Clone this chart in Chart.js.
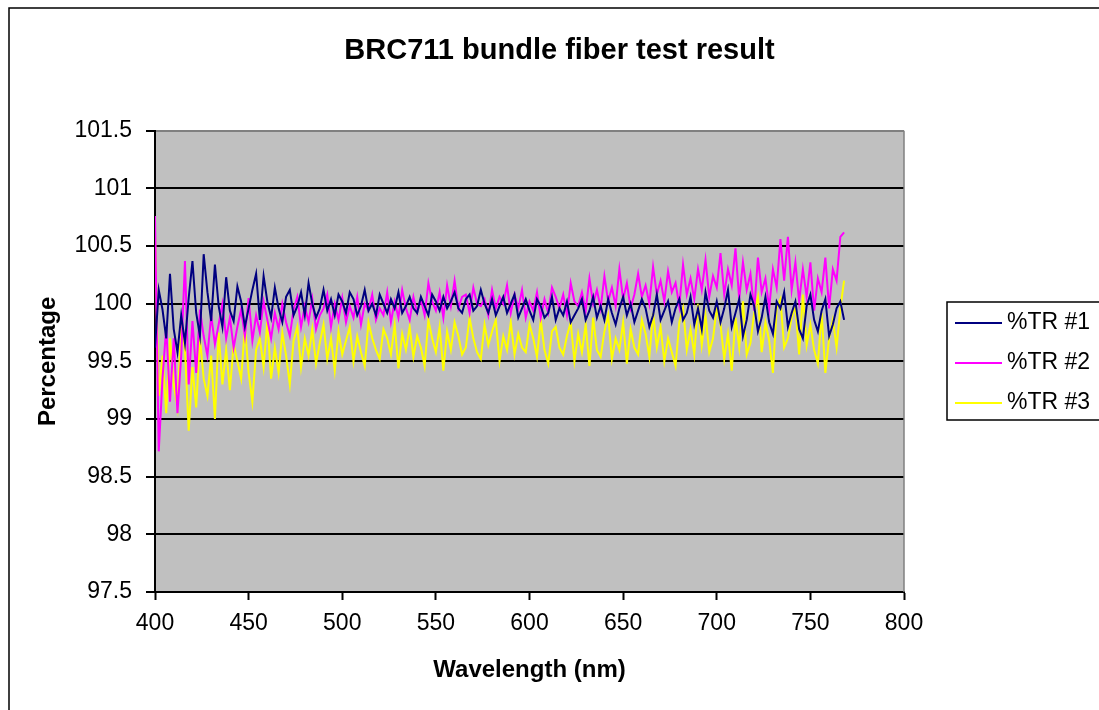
<!DOCTYPE html>
<html lang="en">
<head>
<meta charset="UTF-8">
<title>BRC711 bundle fiber test result</title>
<script src="https://cdn.jsdelivr.net/npm/chart.js"></script>
<style>
  html, body { margin: 0; padding: 0; background: #fff; }
</style>
</head>
<body>

<div style="width: 1099px; height: 710px;">
    <canvas id="fiberChart"></canvas>
</div>

<script>
    // wavelength samples (nm)
    var wavelengths = [
        400,402,404,406,408,410,412,414,416,418,
        420,422,424,426,428,430,432,434,436,438,
        440,442,444,446,448,450,452,454,456,458,
        460,462,464,466,468,470,472,474,476,478,
        480,482,484,486,488,490,492,494,496,498,
        500,502,504,506,508,510,512,514,516,518,
        520,522,524,526,528,530,532,534,536,538,
        540,542,544,546,548,550,552,554,556,558,
        560,562,564,566,568,570,572,574,576,578,
        580,582,584,586,588,590,592,594,596,598,
        600,602,604,606,608,610,612,614,616,618,
        620,622,624,626,628,630,632,634,636,638,
        640,642,644,646,648,650,652,654,656,658,
        660,662,664,666,668,670,672,674,676,678,
        680,682,684,686,688,690,692,694,696,698,
        700,702,704,706,708,710,712,714,716,718,
        720,722,724,726,728,730,732,734,736,738,
        740,742,744,746,748,750,752,754,756,758,
        760,762,764,766,768
    ];

    var tr1 = [
        99.62,100.12,99.95,99.70,100.26,99.78,99.58,99.90,99.66,100.05,
        100.37,99.92,99.72,100.43,100.10,99.85,100.34,99.98,99.80,100.23,
        99.94,99.85,100.15,100.02,99.80,99.96,100.12,100.26,99.86,100.24,
        100.02,99.88,100.14,99.96,99.84,100.06,100.12,99.90,99.98,100.10,
        99.90,100.18,100.00,99.88,99.96,100.12,99.94,100.04,99.90,100.08,
        100.02,99.92,100.10,100.04,99.90,99.98,100.12,99.94,100.00,99.90,
        100.08,100.00,99.92,100.04,99.96,100.10,99.92,99.98,100.06,99.96,
        99.92,100.06,99.98,99.90,100.08,100.02,99.94,100.06,99.96,100.02,
        100.10,99.96,99.92,100.04,100.08,99.94,99.98,100.12,100.00,99.92,
        100.04,99.90,99.98,100.06,99.92,100.00,100.08,99.88,99.96,100.04,
        99.94,99.86,100.04,99.98,99.88,99.92,100.06,99.86,99.96,99.90,
        100.02,99.84,99.90,99.96,100.04,99.86,99.94,100.06,99.88,99.98,
        99.86,100.04,99.92,99.82,99.96,100.06,99.90,100.00,99.84,99.94,
        100.04,99.96,99.80,99.90,100.08,99.86,99.94,100.02,99.84,99.96,
        100.04,99.86,99.92,100.06,99.82,99.96,99.78,100.10,99.94,99.88,
        100.02,99.84,99.96,100.12,99.80,99.92,100.04,99.72,99.86,100.08,
        99.98,99.76,99.88,100.06,99.84,99.74,100.02,99.96,100.10,99.80,
        99.92,100.02,99.78,99.70,99.98,100.08,99.86,99.76,99.94,100.04,
        99.72,99.82,99.96,100.02,99.86
    ];

    var tr2 = [
        100.76,98.72,99.35,99.80,99.15,99.70,99.05,99.55,100.37,99.30,
        99.85,99.40,99.95,99.72,99.55,99.90,99.65,99.82,100.00,99.70,
        99.88,99.62,99.80,99.95,99.72,100.05,99.68,99.90,99.75,100.02,
        99.86,99.70,99.92,99.78,100.00,99.84,99.72,99.95,100.06,99.80,
        99.98,99.84,100.04,99.78,99.90,99.96,100.08,99.80,100.00,99.86,
        100.05,99.84,99.98,99.88,100.06,99.82,100.00,99.94,100.08,99.86,
        99.96,99.90,100.10,99.84,100.02,99.88,100.12,99.96,99.86,100.06,
        99.92,100.04,99.90,100.18,100.02,99.94,100.10,99.88,100.16,99.98,
        100.20,99.96,100.06,100.08,99.92,100.14,100.00,99.98,100.04,99.90,
        100.12,99.96,100.06,100.00,100.16,99.92,100.08,99.96,100.12,99.88,
        100.02,99.94,100.10,99.88,100.04,99.92,100.14,100.06,99.96,100.08,
        99.90,100.18,100.02,99.98,100.10,99.94,100.22,100.00,100.12,99.96,
        100.24,100.02,100.14,99.98,100.30,100.04,100.18,99.96,100.08,100.26,
        100.06,100.16,100.00,100.32,100.08,100.20,100.02,100.28,100.10,100.18,
        99.98,100.34,100.08,100.22,100.04,100.30,100.12,100.38,100.06,100.24,
        100.14,100.44,100.08,100.30,100.16,100.48,100.04,100.36,100.12,100.26,
        99.94,100.40,100.10,100.22,99.96,100.30,100.14,100.56,100.20,100.58,
        100.12,100.36,100.02,100.30,100.06,100.36,99.94,100.22,100.10,100.40,
        99.96,100.30,100.20,100.58,100.62
    ];

    var tr3 = [
        100.60,99.20,99.55,99.05,99.70,99.30,99.10,99.85,99.60,98.90,
        99.45,99.10,99.70,99.35,99.20,99.55,99.00,99.75,99.30,99.60,
        99.25,99.65,99.50,99.35,99.80,99.40,99.15,99.60,99.70,99.45,
        99.85,99.35,99.62,99.40,99.75,99.55,99.30,99.68,99.80,99.45,
        99.70,99.55,99.78,99.48,99.66,99.82,99.52,99.70,99.42,99.76,
        99.56,99.68,99.80,99.50,99.72,99.58,99.46,99.84,99.70,99.60,
        99.52,99.78,99.70,99.56,99.82,99.44,99.74,99.60,99.80,99.54,
        99.72,99.62,99.46,99.86,99.70,99.58,99.80,99.42,99.76,99.60,
        99.84,99.72,99.56,99.62,99.88,99.70,99.58,99.52,99.82,99.64,
        99.76,99.86,99.50,99.72,99.60,99.84,99.56,99.74,99.62,99.58,
        99.82,99.70,99.54,99.86,99.60,99.48,99.76,99.80,99.62,99.56,
        99.72,99.84,99.50,99.74,99.58,99.82,99.46,99.88,99.60,99.54,
        99.76,99.90,99.52,99.70,99.60,99.84,99.48,99.78,99.62,99.56,
        99.86,99.74,99.54,99.92,99.62,99.80,99.50,99.70,99.58,99.46,
        99.84,99.96,99.60,99.78,99.56,100.00,99.64,99.90,99.58,99.70,
        99.96,99.82,99.52,99.74,99.42,99.88,99.62,100.02,99.56,99.66,
        99.92,100.06,99.58,99.84,99.68,99.40,99.96,100.04,99.62,99.70,
        99.88,99.98,99.56,100.08,99.64,99.82,99.60,99.48,99.92,99.40,
        99.70,99.86,99.62,99.96,100.20
    ];

    var seriesNames = ['%TR #1', '%TR #2', '%TR #3'];
    var seriesColors = ['#000080', '#FF00FF', '#FFFF00'];

    var xTicks = [400, 450, 500, 550, 600, 650, 700, 750, 800];
    var yTicks = [97.5, 98, 98.5, 99, 99.5, 100, 100.5, 101, 101.5];

    Chart.defaults.font.family = "'Liberation Sans', Arial, sans-serif";
    Chart.defaults.color = '#000';

    // white page, outer frame, grey plot area
    var frame = {
        id: 'frame',
        beforeDraw: function(chart) {
            var c = chart.ctx, a = chart.chartArea;
            c.save();
            c.fillStyle = '#fff';
            c.fillRect(0, 0, chart.width, chart.height);
            c.strokeStyle = '#000';
            c.lineWidth = 1.5;
            c.strokeRect(9, 8, chart.width + 20, chart.height + 20);
            c.fillStyle = '#C0C0C0';
            c.fillRect(a.left, a.top, a.right - a.left, a.bottom - a.top);
            c.restore();
        },
        beforeDatasetsDraw: function(chart) {
            var c = chart.ctx, a = chart.chartArea;
            c.save();
            c.strokeStyle = '#808080';
            c.lineWidth = 1.5;
            c.beginPath();
            c.moveTo(a.right, a.top);
            c.lineTo(a.right, a.bottom);
            c.stroke();
            c.restore();
        }
    };

    // boxed legend at the right edge
    var boxLegend = {
        id: 'boxLegend',
        afterDraw: function(chart) {
            var c = chart.ctx;
            c.save();
            c.fillStyle = '#fff';
            c.fillRect(947, 302, 200, 118);
            c.strokeStyle = '#000';
            c.lineWidth = 1.5;
            c.strokeRect(947, 302, 200, 118);
            c.font = "23px 'Liberation Sans', Arial, sans-serif";
            c.textBaseline = 'middle';
            chart.data.datasets.forEach(function(ds, i) {
                var y = 323 + i * 40;
                c.strokeStyle = ds.borderColor;
                c.lineWidth = 2;
                c.beginPath();
                c.moveTo(955, y);
                c.lineTo(1002, y);
                c.stroke();
                c.fillStyle = '#000';
                c.fillText(ds.label, 1007, y);
            });
            c.restore();
        }
    };

    var ctx = document.getElementById('fiberChart').getContext('2d');

    var fiberChart = new Chart(ctx, {
        type: 'line',
        data: {
            labels: wavelengths,
            datasets: [
                { label: seriesNames[0], data: tr1, borderColor: seriesColors[0] },
                { label: seriesNames[1], data: tr2, borderColor: seriesColors[1] },
                { label: seriesNames[2], data: tr3, borderColor: seriesColors[2] }
            ]
        },
        options: {
            responsive: true,
            maintainAspectRatio: false,
            animation: false,
            elements: {
                line: { borderWidth: 2, tension: 0 },
                point: { radius: 0 }
            },
            layout: {
                padding: { left: 20, right: 0, top: 0, bottom: 8 }
            },
            plugins: {
                legend: { display: false },
                tooltip: { enabled: false },
                title: {
                    display: true,
                    text: 'BRC711 bundle fiber test result',
                    font: { size: 29, weight: 'bold' },
                    color: '#000',
                    padding: { top: 34, bottom: 62 }
                }
            },
            scales: {
                x: {
                    type: 'linear',
                    min: 400,
                    max: 800,
                    afterBuildTicks: function(s) {
                        s.ticks = xTicks.map(function(v) { return { value: v }; });
                    },
                    afterFit: function(s) { s.height = 110; },
                    grid: {
                        drawOnChartArea: false,
                        drawTicks: true,
                        tickLength: 8,
                        tickColor: '#000',
                        tickWidth: 2
                    },
                    border: { color: '#000', width: 2 },
                    ticks: {
                        font: { size: 23 },
                        padding: 10,
                        maxRotation: 0
                    },
                    title: {
                        display: true,
                        text: 'Wavelength (nm)',
                        font: { size: 24, weight: 'bold' },
                        padding: { top: 0, bottom: 17 }
                    }
                },
                y: {
                    min: 97.5,
                    max: 101.5,
                    afterBuildTicks: function(s) {
                        s.ticks = yTicks.map(function(v) { return { value: v }; });
                    },
                    afterFit: function(s) { s.width = 135; },
                    grid: {
                        color: function(c) { return c.tick && c.tick.value === 101.5 ? '#808080' : '#000'; },
                        lineWidth: 2,
                        tickLength: 9,
                        tickColor: '#000'
                    },
                    border: { color: '#000', width: 2 },
                    ticks: {
                        font: { size: 23 },
                        padding: 14,
                        callback: function(v) { return String(v); }
                    },
                    title: {
                        display: true,
                        text: 'Percentage',
                        font: { size: 24, weight: 'bold' },
                        padding: { top: 14, bottom: 0 }
                    }
                },
                y2: {
                    position: 'right',
                    display: true,
                    afterFit: function(s) { s.width = 195; },
                    grid: { display: false },
                    border: { display: false },
                    ticks: { display: false }
                }
            }
        },
        plugins: [frame, boxLegend]
    });
</script>

</body>
</html>
